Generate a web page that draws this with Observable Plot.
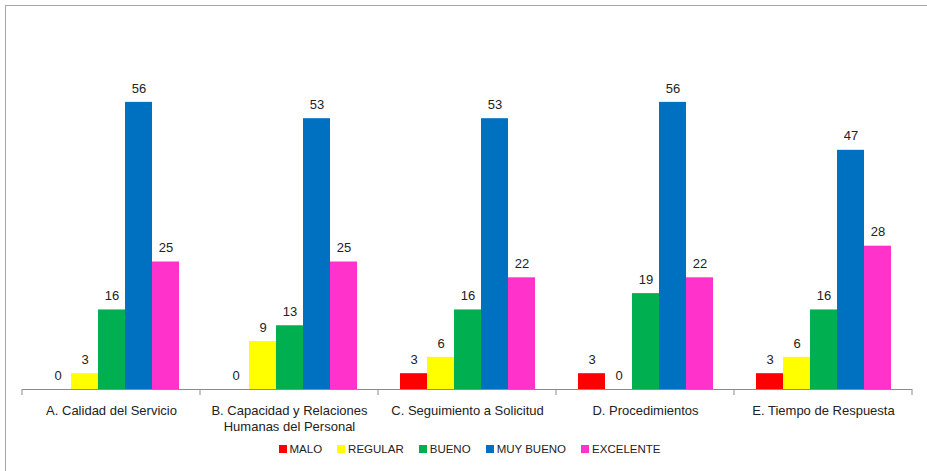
<!DOCTYPE html>
<html>
<head>
<meta charset="utf-8">
<script src="https://cdn.jsdelivr.net/npm/d3@7"></script>
<script src="https://cdn.jsdelivr.net/npm/@observablehq/plot@0.6"></script>
<style>
  html, body { margin: 0; padding: 0; background: #fff; overflow: hidden; }
  body { width: 927px; height: 471px; position: relative; font-family: "Liberation Sans", Arial, sans-serif; }
  #border { position: absolute; left: 5px; top: 5px; width: 960px; height: 500px; border: 1px solid #a6a6a6; box-sizing: border-box; }
  #chart { position: absolute; left: 0; top: 0; }
  #legend { position: absolute; left: 0; top: 443px; width: 927px; display: flex; justify-content: center; padding-left: 12px; box-sizing: border-box; font-size: 11.5px; color: #222; }
  .item { display: flex; align-items: center; margin: 0 7.5px; }
  .sw { width: 8px; height: 8px; margin-right: 3px; }
</style>
</head>
<body>
<div id="border"></div>
<div id="chart"></div>
<div id="legend"></div>
<script>
const categories = [
  "A. Calidad del Servicio",
  "B. Capacidad y Relaciones\nHumanas del Personal",
  "C. Seguimiento a Solicitud",
  "D. Procedimientos",
  "E. Tiempo de Respuesta"
];
const series = ["MALO", "REGULAR", "BUENO", "MUY BUENO", "EXCELENTE"];
const colors = ["#FF0000", "#FFFF00", "#00B050", "#0070C0", "#FF33CC"];
// bar heights (labels show them rounded)
const malo = [0, 0, 3.1, 3.1, 3.1];
const regular = [3.1, 9.4, 6.3, 0, 6.3];
const bueno = [15.6, 12.5, 15.6, 18.8, 15.6];
const muyBueno = [56.3, 53.1, 53.1, 56.3, 46.9];
const excelente = [25, 25, 21.9, 21.9, 28.1];

const valuesBySeries = [malo, regular, bueno, muyBueno, excelente];
const data = [];
categories.forEach((c, i) => {
  series.forEach((s, j) => data.push({cat: c, series: s, value: valuesBySeries[j][i]}));
});
const fmt = d3.format(".0f");

const plot = Plot.plot({
  width: 927,
  height: 438,
  marginLeft: 22,
  marginRight: 15,
  marginTop: 83,
  marginBottom: 49,
  style: {fontFamily: "Liberation Sans, Arial, sans-serif", fontSize: "13px", color: "#222", background: "transparent"},
  fx: {domain: categories, padding: 0, label: null, axis: null},
  x: {domain: series, paddingInner: 0, paddingOuter: 0.74, axis: null},
  y: {domain: [0, 60], axis: null},
  color: {domain: series, range: colors},
  marks: [
    Plot.barY(data, {fx: "cat", x: "series", y: "value", fill: "series"}),
    Plot.text(data, {fx: "cat", x: "series", y: "value", text: d => fmt(d.value), dy: -14, fontSize: 13, fill: "#222"}),
    Plot.ruleY([0], {stroke: "#8c8c8c", strokeWidth: 1}),
    Plot.axisFx({anchor: "bottom", tickSize: 0, tickPadding: 13, fontSize: 13, lineHeight: 1.3, label: null, fill: "#222"})
  ]
});

// category separators at band edges, from the library's own scales
const fx = plot.scale("fx");
const y = plot.scale("y");
const base = y.apply(0);
const edges = fx.domain.map(d => fx.apply(d));
edges.push(fx.apply(fx.domain[fx.domain.length - 1]) + fx.bandwidth);
d3.select(plot).append("g")
  .selectAll("line").data(edges).join("line")
  .attr("x1", d => d).attr("x2", d => d)
  .attr("y1", base).attr("y2", base + 6)
  .attr("stroke", "#8c8c8c").attr("stroke-width", 1);

document.getElementById("chart").appendChild(plot);

const legend = document.getElementById("legend");
series.forEach((s, i) => {
  const item = document.createElement("div");
  item.className = "item";
  const sw = document.createElement("span");
  sw.className = "sw";
  sw.style.background = colors[i];
  const t = document.createElement("span");
  t.textContent = s;
  item.appendChild(sw);
  item.appendChild(t);
  legend.appendChild(item);
});
</script>
</body>
</html>
